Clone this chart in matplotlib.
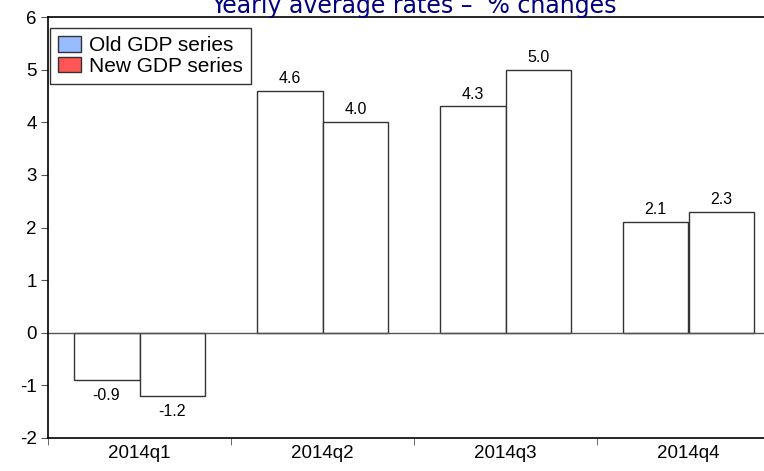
import matplotlib.pyplot as plt
from matplotlib.patches import Patch
import numpy as np

quarters = ["2014q1", "2014q2", "2014q3", "2014q4"]
old_gdp = [-0.9, 4.6, 4.3, 2.1]
new_gdp = [-1.2, 4.0, 5.0, 2.3]
series_names = ["Old GDP series", "New GDP series"]
legend_colors = ["#99bbff", "#ff5555"]

plt.rcParams['font.family'] = ['Liberation Sans', 'DejaVu Sans']
plt.rcParams['axes.unicode_minus'] = False

fig = plt.figure(figsize=(7.64, 4.71), dpi=100)
ax = fig.add_axes([48 / 764, 33 / 471, 4 * 183 / 764, 421 / 471])

x = np.arange(len(quarters))
w = 0.36
edge = "#333333"
b1 = ax.bar(x - w / 2, old_gdp, w, color="white", edgecolor=edge, linewidth=1)
b2 = ax.bar(x + w / 2, new_gdp, w, color="white", edgecolor=edge, linewidth=1)

# value labels above / below each bar
for bars, vals in [(b1, old_gdp), (b2, new_gdp)]:
    for b, v in zip(bars, vals):
        off = 3.5 if v >= 0 else -6
        ax.annotate(f"{v:.1f}", (b.get_x() + b.get_width() / 2, v),
                    xytext=(0, off), textcoords="offset points",
                    ha="center", va="bottom" if v >= 0 else "top", fontsize=11.5)

ax.axhline(0, color="#555555", linewidth=1)
ax.set_xlim(-0.5, 3.5)
ax.set_ylim(-2, 6)
ax.set_yticks(range(-2, 7))
ax.set_xticks([0, 1, 2, 3])
ax.set_xticklabels(quarters, fontsize=13.5)
ax.set_xticks([-0.5, 0.5, 1.5, 2.5], minor=True)
ax.tick_params(axis="x", which="major", length=0, pad=5)
ax.tick_params(axis="x", which="minor", length=5, color="#555555")
ax.tick_params(axis="y", labelsize=13.5, length=5, color="#555555", pad=3)
for s in ax.spines.values():
    s.set_linewidth(1.2)
ax.spines["right"].set_visible(False)

handles = [Patch(facecolor=c, edgecolor="#333333") for c in legend_colors]
leg = ax.legend(handles, series_names, loc="upper left", fontsize=15,
                bbox_to_anchor=(2 / 732, 1 - 11 / 421),
                frameon=True, fancybox=False, edgecolor="black",
                borderaxespad=0, handlelength=1.1, handleheight=0.75,
                labelspacing=0.08, handletextpad=0.38, borderpad=0.4)
leg.get_frame().set_linewidth(1)

fig.text(414 / 764, (471 - 13) / 471, "Yearly average rates \u2013  % changes",
         ha="center", va="baseline", fontsize=17, color="#000080",
         family=["DejaVu Sans"])

fig.savefig("out.png", dpi=100)
